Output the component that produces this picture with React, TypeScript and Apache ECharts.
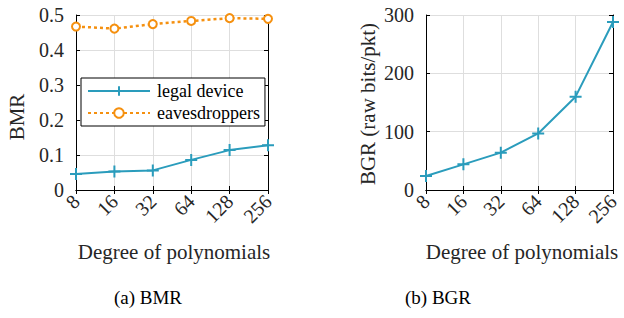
import React, { useEffect, useRef } from "react";
import * as echarts from "echarts";

const categories = ["8", "16", "32", "64", "128", "256"];
const bmrLegal = [0.046, 0.053, 0.056, 0.086, 0.114, 0.128];
const bmrEaves = [0.467, 0.461, 0.474, 0.483, 0.491, 0.489];
const bgrLegal = [24, 44, 64, 97, 160, 288];

const TEAL = "#2a9cbc";
const ORANGE = "#f5900f";
const FONT = "Times New Roman, Liberation Serif, DejaVu Serif, serif";
const TXT = "#262626";

const plusSymbol = "path://M5,0L5,10M0,5L10,5";

function xAxes(gridIndex: number) {
  return [
    {
      type: "category",
      gridIndex,
      data: categories,
      boundaryGap: false,
      axisLine: { show: true, lineStyle: { color: "#000", width: 1 } },
      axisTick: { show: true, inside: true, length: 4, lineStyle: { color: "#000" } },
      splitLine: { show: true, lineStyle: { color: "#dedede", width: 1 } },
      axisLabel: { rotate: 45, fontSize: 20, fontFamily: FONT, color: TXT, margin: 8 },
    },
    {
      type: "category",
      gridIndex,
      position: "top",
      data: categories,
      boundaryGap: false,
      axisLine: { show: true, lineStyle: { color: "#000", width: 1 } },
      axisTick: { show: true, inside: true, length: 4, lineStyle: { color: "#000" } },
      splitLine: { show: false },
      axisLabel: { show: false },
    },
  ];
}

function yAxes(gridIndex: number, max: number, interval: number, fmt: (v: number) => string) {
  return [
    {
      type: "value",
      gridIndex,
      min: 0,
      max,
      interval,
      axisLine: { show: true, lineStyle: { color: "#000", width: 1 } },
      axisTick: { show: true, inside: true, length: 4, lineStyle: { color: "#000" } },
      splitLine: { show: true, lineStyle: { color: "#dedede", width: 1 } },
      axisLabel: { fontSize: 20, fontFamily: FONT, color: TXT, margin: 12, formatter: fmt },
    },
    {
      type: "value",
      gridIndex,
      position: "right",
      min: 0,
      max,
      interval,
      axisLine: { show: true, lineStyle: { color: "#000", width: 1 } },
      axisTick: { show: true, inside: true, length: 4, lineStyle: { color: "#000" } },
      splitLine: { show: false },
      axisLabel: { show: false },
    },
  ];
}

function label(text: string, x: number, y: number, size: number, vertical = false, fill = TXT) {
  return {
    type: "text",
    x,
    y,
    rotation: vertical ? Math.PI / 2 : 0,
    style: {
      text,
      fontFamily: FONT,
      fontSize: size,
      fill,
      align: "center",
      verticalAlign: "middle",
    },
  };
}

export default function App() {
  const ref = useRef<HTMLDivElement>(null);
  useEffect(() => {
    if (!ref.current) return;
    const chart = echarts.init(ref.current, null, { renderer: "svg" });
    const option: any = {
      animation: false,
      backgroundColor: "#fff",
      textStyle: { fontFamily: FONT },
      grid: [
        { left: 76, top: 15, width: 192, height: 175 },
        { left: 426, top: 15, width: 187, height: 175 },
      ],
      xAxis: [...xAxes(0), ...xAxes(1)],
      yAxis: [
        ...yAxes(0, 0.5, 0.1, (v: number) => (v === 0 ? "0" : v.toFixed(1))),
        ...yAxes(1, 300, 100, (v: number) => String(v)),
      ],
      legend: {
        orient: "vertical",
        left: 81,
        top: 78,
        data: ["legal device", "eavesdroppers"],
        backgroundColor: "#fff",
        borderColor: "#000",
        borderWidth: 1,
        borderRadius: 0,
        padding: [4, 5, 4, 6],
        itemGap: 4,
        itemWidth: 62,
        itemHeight: 12,
        textStyle: { fontSize: 18, fontFamily: FONT, color: "#000", padding: [0, 0, 0, 2] },
      },
      series: [
        {
          name: "legal device",
          type: "line",
          xAxisIndex: 0,
          yAxisIndex: 0,
          data: bmrLegal,
          color: TEAL,
          lineStyle: { color: TEAL, width: 2 },
          symbol: plusSymbol,
          symbolSize: 12,
          itemStyle: { color: TEAL, borderColor: TEAL, borderWidth: 2 },
          z: 3,
        },
        {
          name: "eavesdroppers",
          type: "line",
          xAxisIndex: 0,
          yAxisIndex: 0,
          data: bmrEaves,
          color: ORANGE,
          lineStyle: { color: ORANGE, width: 2.5, type: [3, 3] },
          symbol: "emptyCircle",
          symbolSize: 8,
          itemStyle: { color: ORANGE, borderColor: ORANGE, borderWidth: 2.5 },
          z: 3,
        },
        {
          name: "BGR",
          type: "line",
          xAxisIndex: 2,
          yAxisIndex: 2,
          data: bgrLegal,
          color: TEAL,
          lineStyle: { color: TEAL, width: 2 },
          symbol: plusSymbol,
          symbolSize: 12,
          itemStyle: { color: TEAL, borderColor: TEAL, borderWidth: 2 },
          z: 3,
        },
      ],
      graphic: [
        label("BMR", 17, 117, 21, true),
        label("BGR (raw bits/pkt)", 368, 104, 21, true),
        label("Degree of polynomials", 174, 252, 21),
        label("Degree of polynomials", 522, 252, 21),
        label("(a) BMR", 148, 297, 19, false, "#000"),
        label("(b) BGR", 438, 297, 19, false, "#000"),
      ],
    };
    chart.setOption(option);
    return () => chart.dispose();
  }, []);
  return (
    <div
      ref={ref}
      style={{ position: "fixed", left: 0, top: 0, width: 624, height: 318, background: "#fff" }}
    />
  );
}
